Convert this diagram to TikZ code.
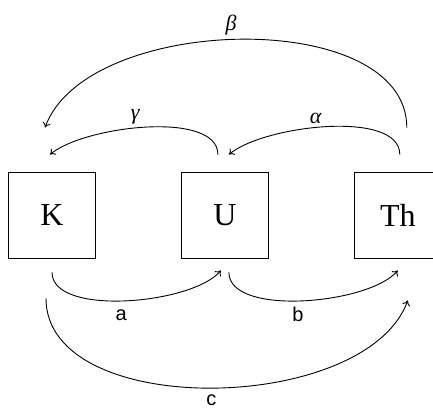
\documentclass[tikz,border=0pt]{standalone}
\usepackage{fontspec}
\setmainfont{Liberation Serif}
\setsansfont{Liberation Sans}
\usetikzlibrary{positioning, arrows.meta}

\begin{document}
\begin{tikzpicture}[x=1pt, y=1pt, node distance=85pt, line width=0.9pt]
  \tikzset{
    box/.style={rectangle, draw, inner sep=0pt, minimum width=87pt,
      minimum height=86pt, font=\fontsize{32}{34}\selectfont},
    link/.style={-{To[length=5pt,width=8pt]}},
    lbl/.style={font=\sffamily\fontsize{20}{22}\selectfont, inner sep=1pt},
    glbl/.style={font=\itshape\fontsize{22}{24}\selectfont, inner sep=1pt},
  }
  \clip (0,0) rectangle (433,411);
  \node[box] (K) at (52,196) {K};
  \node[box, right=of K] (U) {U};
  \node[box, right=of U] (Th) {Th};

  % upper arcs
  \draw[link] ([xshift=-7pt,yshift=17pt]U.north) to[out=90, in=40, looseness=0.68]
    node[glbl, pos=0.55, above=2pt] {γ} ([xshift=-2pt,yshift=17pt]K.north);
  \draw[link] ([xshift=2pt,yshift=17pt]Th.north) to[out=90, in=40, looseness=0.68]
    node[glbl, pos=0.55, above=2pt] {α} ([xshift=4pt,yshift=17pt]U.north);
  \draw[link] ([xshift=9pt,yshift=44pt]Th.north) to[out=90, in=70, looseness=0.86]
    node[glbl, pos=0.52, above=3pt] {β} ([xshift=-7pt,yshift=44pt]K.north);

  % lower arcs
  \draw[link] ([yshift=-14pt]K.south) to[out=-90, in=-130, looseness=0.67]
    node[lbl, pos=0.48, below=7pt] {a} ([xshift=-4pt,yshift=-12pt]U.south);
  \draw[link] ([xshift=4pt,yshift=-14pt]U.south) to[out=-90, in=-130, looseness=0.67]
    node[lbl, pos=0.48, below=5pt] {b} ([yshift=-12pt]Th.south);
  \draw[link] ([xshift=-6pt,yshift=-40pt]K.south) to[out=-90, in=-110, looseness=0.86]
    node[lbl, pos=0.5, below=5pt] {c} ([xshift=10pt,yshift=-42pt]Th.south);
\end{tikzpicture}
\end{document}
